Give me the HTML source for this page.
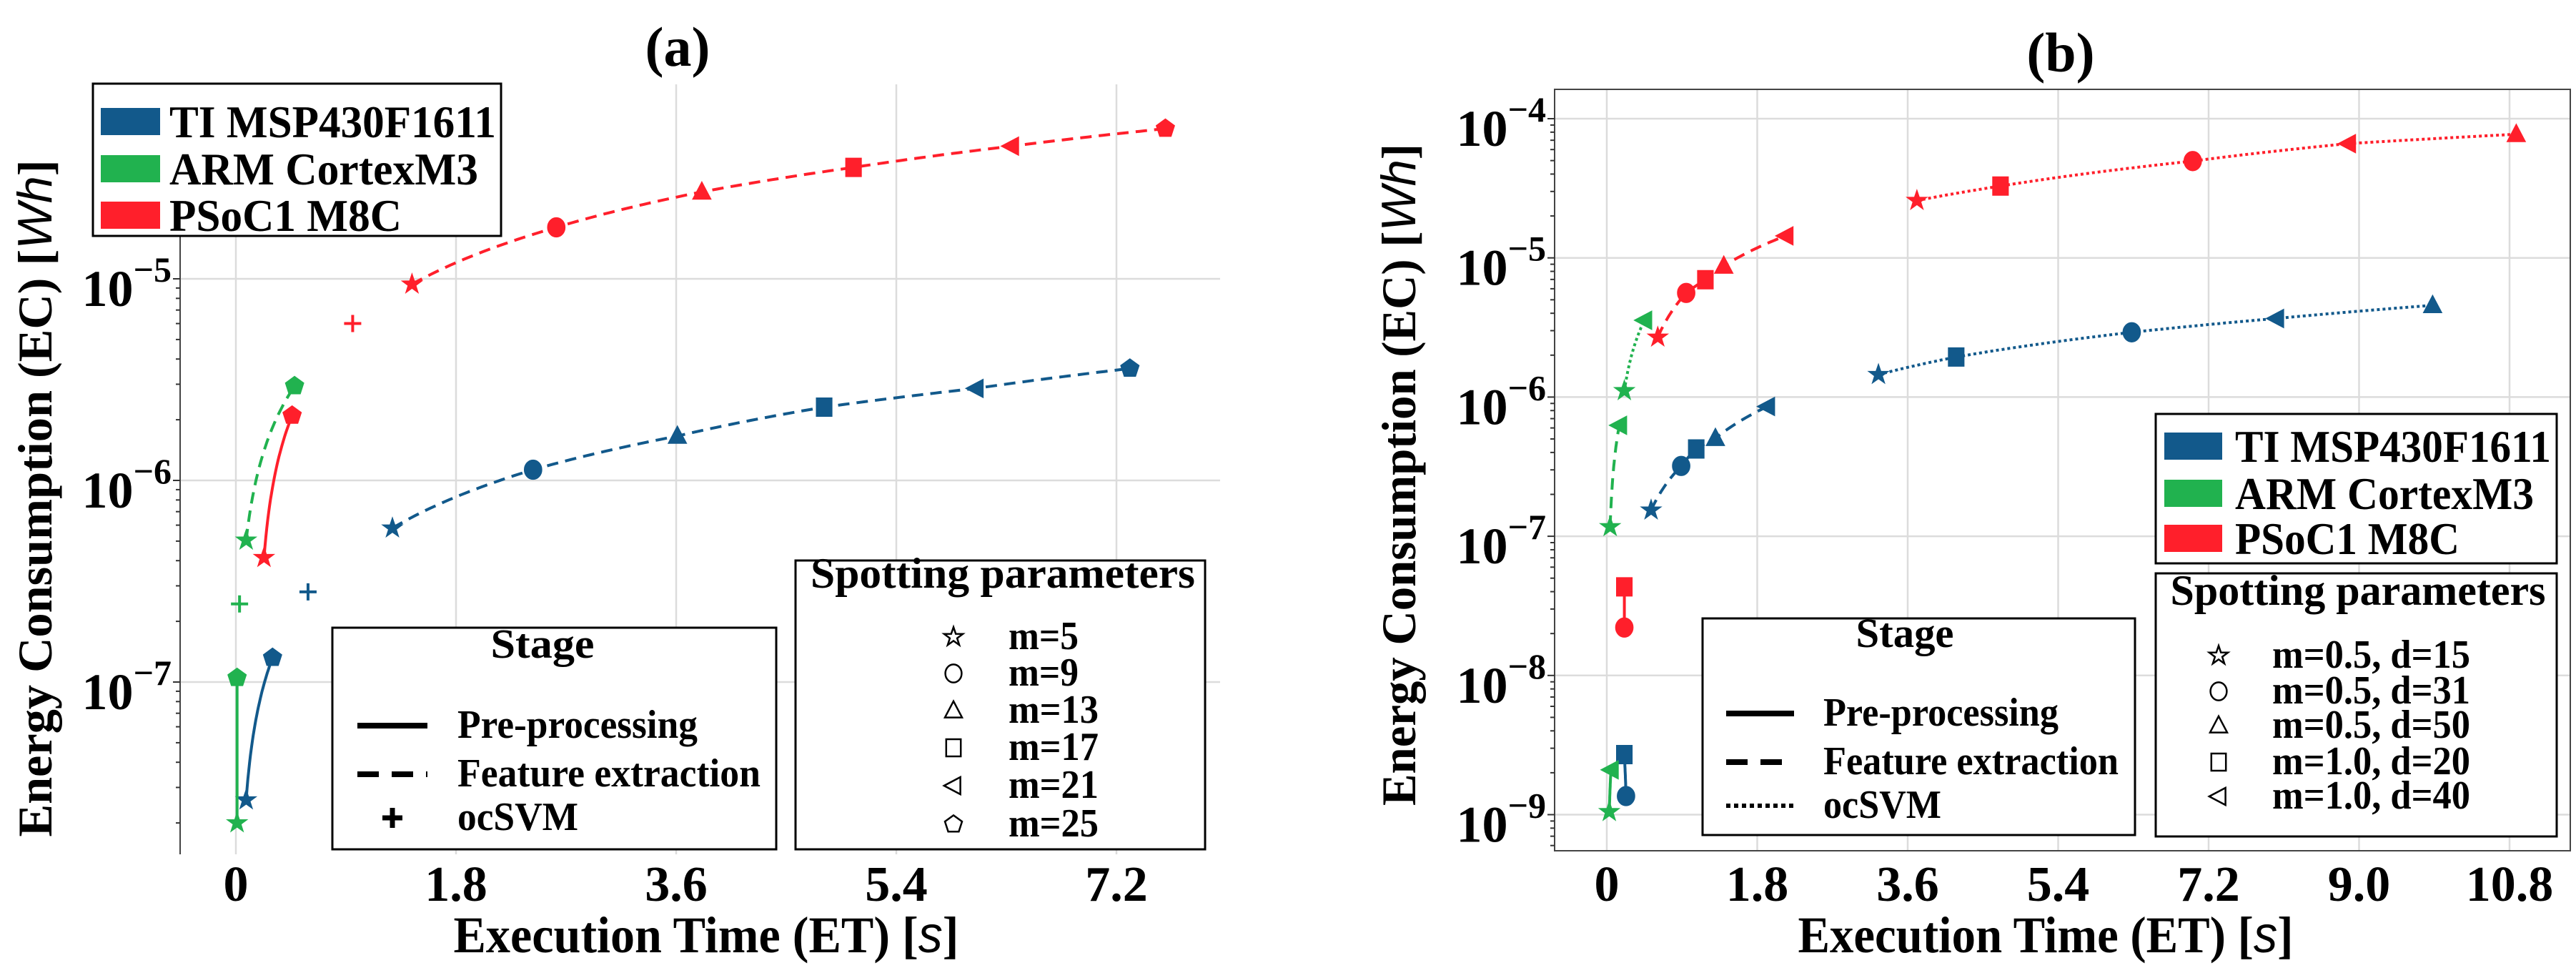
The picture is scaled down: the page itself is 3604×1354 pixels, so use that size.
<!DOCTYPE html>
<html><head><meta charset="utf-8"><style>
html,body{margin:0;padding:0;background:#fff;}
svg{display:block;}
text{font-family:"Liberation Serif","DejaVu Serif Condensed","DejaVu Serif",serif;font-weight:bold;}
</style></head><body>
<svg id="fig" xmlns="http://www.w3.org/2000/svg" width="3604" height="1354" viewBox="0 0 3604 1354"></svg>
<script>
// ---------- Panel (a) data ----------
const aTiPreX=[0.084,0.30];   const aTiPreY=[2.6e-8,1.32e-7];
const aTiFeatX=[1.28,2.43,3.61,4.81,6.05,7.31]; const aTiFeatY=[5.8e-7,1.13e-6,1.66e-6,2.31e-6,2.86e-6,3.59e-6];
const aTiSvmX=[0.59]; const aTiSvmY=[2.8e-7];
const aArmPreX=[0.01,0.01];   const aArmPreY=[2.0e-8,1.05e-7];
const aArmFeatX=[0.084,0.48]; const aArmFeatY=[5.05e-7,2.94e-6];
const aArmSvmX=[0.03]; const aArmSvmY=[2.44e-7];
const aPsPreX=[0.23,0.46];    const aPsPreY=[4.14e-7,2.1e-6];
const aPsFeatX=[1.44,2.62,3.81,5.05,6.34,7.6]; const aPsFeatY=[9.4e-6,1.8e-5,2.7e-5,3.57e-5,4.55e-5,5.56e-5];
const aPsSvmX=[0.955]; const aPsSvmY=[6.0e-6];
const aXTicks=[0,1.8,3.6,5.4,7.2]; const aXTickLabels=["0","1.8","3.6","5.4","7.2"];
const aYExps=[-7,-6,-5];
const aSpotLabels=["m=5","m=9","m=13","m=17","m=21","m=25"];
// ---------- Panel (b) data ----------
const bTiPreX=[0.23,0.21]; const bTiPreY=[1.36e-9,2.7e-9];
const bTiFeatX=[0.53,0.89,1.07,1.30,1.92]; const bTiFeatY=[1.54e-7,3.2e-7,4.24e-7,5.06e-7,8.55e-7];
const bTiSvmX=[3.25,4.18,6.28,8.01,9.88]; const bTiSvmY=[1.45e-6,1.94e-6,2.92e-6,3.67e-6,4.56e-6];
const bArmPreX=[0.03,0.05]; const bArmPreY=[1.05e-9,2.1e-9];
const bArmFeatX=[0.04,0.15]; const bArmFeatY=[1.17e-7,6.27e-7];
const bArmSvmX=[0.21,0.45]; const bArmSvmY=[1.11e-6,3.56e-6];
const bPsPreX=[0.21,0.21]; const bPsPreY=[2.21e-8,4.33e-8];
const bPsFeatX=[0.61,0.95,1.18,1.40,2.14]; const bPsFeatY=[2.69e-6,5.6e-6,6.97e-6,8.75e-6,1.44e-5];
const bPsSvmX=[3.71,4.71,7.01,8.87,10.88]; const bPsSvmY=[2.58e-5,3.28e-5,4.96e-5,6.62e-5,7.73e-5];
const bXTicks=[0,1.8,3.6,5.4,7.2,9.0,10.8]; const bXTickLabels=["0","1.8","3.6","5.4","7.2","9.0","10.8"];
const bYExps=[-9,-8,-7,-6,-5,-4];
const bSpotLabels=["m=0.5, d=15","m=0.5, d=31","m=0.5, d=50","m=1.0, d=20","m=1.0, d=40"];

const BLUE="#12598b", GREEN="#21b24f", RED="#ff1f2b";
const NS="http://www.w3.org/2000/svg";
const svg=document.getElementById('fig');
function el(tag,attrs,parent){const e=document.createElementNS(NS,tag);
  for(const k in attrs)e.setAttribute(k,attrs[k]);(parent||svg).appendChild(e);return e;}
function fit(t,w){if(w){t.setAttribute('textLength',w);t.setAttribute('lengthAdjust','spacingAndGlyphs');}}

function markerPath(type,cx,cy,r){
  let pts=[];
  if(type==='star'){for(let i=0;i<10;i++){const a=-Math.PI/2+i*Math.PI/5;const rr=i%2?r*0.45:r*1.15;pts.push([cx+rr*Math.cos(a),cy+rr*Math.sin(a)]);}}
  else if(type==='tri'){pts=[[cx,cy-r*1.1],[cx+r,cy+r*0.8],[cx-r,cy+r*0.8]];}
  else if(type==='left'){pts=[[cx-r*1.1,cy],[cx+r*0.8,cy-r],[cx+r*0.8,cy+r]];}
  else if(type==='square'){pts=[[cx-r*0.85,cy-r],[cx+r*0.85,cy-r],[cx+r*0.85,cy+r],[cx-r*0.85,cy+r]];}
  else if(type==='pent'){for(let i=0;i<5;i++){const a=-Math.PI/2+i*2*Math.PI/5;pts.push([cx+r*1.05*Math.cos(a),cy+r*1.05*Math.sin(a)]);}}
  else if(type==='plus'){return 'M'+(cx-r)+' '+cy+'H'+(cx+r)+'M'+cx+' '+(cy-r)+'V'+(cy+r);}
  return 'M'+pts.map(p=>p[0].toFixed(1)+' '+p[1].toFixed(1)).join('L')+'Z';
}
function drawMarker(g,type,cx,cy,r,color,hollow){
  let m;
  if(type==='circle'){m=el('ellipse',{cx:cx,cy:cy,rx:r*0.95,ry:r*1.05,fill:hollow?'none':color,stroke:color,'stroke-width':hollow?2.5:1},g);}
  else if(type==='plus'){m=el('path',{d:markerPath(type,cx,cy,r),stroke:color,'stroke-width':hollow?7:4,fill:'none'},g);}
  else {m=el('path',{d:markerPath(type,cx,cy,r),fill:hollow?'none':color,stroke:color,'stroke-width':hollow?2.5:1},g);}
  
  
  return m;
}

function panel(cfg){
  const X=v=>cfg.x0+v/1.8*cfg.xstep;
  const Y=v=>cfg.ytop+(-Math.log10(v)-cfg.topExp)*cfg.dec;
  const g=el('g',{});
  
  
  const grid=el('g',{stroke:'#dcdcdc','stroke-width':2.5},g);
  
  
  cfg.xTicks.forEach(t=>{el('line',{x1:X(t),x2:X(t),y1:cfg.pt,y2:cfg.pb},grid);});
  cfg.yExps.forEach(e=>{const y=Y(Math.pow(10,e));el('line',{x1:cfg.pl,x2:cfg.pr,y1:y,y2:y},grid);});
  if(cfg.frame){const f=el('rect',{x:cfg.pl,y:cfg.pt,width:cfg.pr-cfg.pl,height:cfg.pb-cfg.pt,fill:'none',stroke:'#444','stroke-width':2},g);
    }
  else{const sp=el('line',{x1:cfg.pl,x2:cfg.pl,y1:cfg.pt,y2:cfg.pb,stroke:'#444','stroke-width':2},g);
    }
  const mt=el('g',{stroke:'#333','stroke-width':2},g);
  for(let e=cfg.yExps[0]-1;e<=cfg.yExps[cfg.yExps.length-1];e++){for(let k=2;k<=9;k++){const y=Y(k*Math.pow(10,e));if(y>cfg.pt&&y<cfg.pb)el('line',{x1:cfg.pl-6,x2:cfg.pl,y1:y,y2:y},mt);}}
  cfg.yExps.forEach(e=>{const y=Y(Math.pow(10,e));el('line',{x1:cfg.pl-10,x2:cfg.pl,y1:y,y2:y},mt);});
  cfg.xTicks.forEach((t,i)=>{const tx=el('text',{x:X(t),y:1260,'font-size':70,'text-anchor':'middle'},g);tx.textContent=cfg.xLabels[i];
    });
  cfg.yExps.forEach(e=>{const y=Y(Math.pow(10,e));const tx=el('text',{x:cfg.pl-12,y:y+38,'font-size':72,'text-anchor':'end'},g);
    tx.textContent='10';const s=el('tspan',{dy:-34,'font-size':50},tx);s.textContent='\u2212'+(-e);
    });
  const xl=el('text',{x:cfg.xlx,y:1332,'font-size':72,'text-anchor':'middle'},g);
  xl.textContent='Execution Time (ET) [';const xs=el('tspan',{'font-family':'Liberation Sans, sans-serif','font-style':'italic','font-weight':'normal'},xl);xs.textContent='s';
  const xe=el('tspan',{},xl);xe.textContent=']';
  fit(xl,cfg.xlw);
  
  const yl=el('text',{x:0,y:0,'font-size':68,'text-anchor':'middle',transform:'translate('+cfg.ylx+','+cfg.yly+') rotate(-90)'},g);
  yl.textContent='Energy Consumption (EC) [';const ys=el('tspan',{'font-family':'Liberation Sans, sans-serif','font-style':'italic','font-weight':'normal'},yl);ys.textContent='Wh';
  const ye=el('tspan',{},yl);ye.textContent=']';
  fit(yl,cfg.ylw);
  
  const ti=el('text',{x:cfg.tx,y:cfg.ty,'font-size':78,'text-anchor':'middle'},g);ti.textContent=cfg.title;
  
  cfg.series.forEach(s=>{
    const sg=el('g',{},g);
    
    
    if(s.xs.length>1&&s.dash!=='none'){
      let d='';
      for(let i=0;i<s.xs.length-1;i++){for(let k=0;k<=30;k++){const t=k/30;const xv=s.xs[i]+(s.xs[i+1]-s.xs[i])*t;const yv=s.ys[i]+(s.ys[i+1]-s.ys[i])*t;
        d+=(d?'L':'M')+X(xv).toFixed(1)+' '+Y(yv).toFixed(1);}}
      const p=el('path',{d:d,fill:'none',stroke:s.color,'stroke-width':4,'stroke-dasharray':s.dash},sg);
      
    }
    s.xs.forEach((xv,i)=>drawMarker(sg,s.marks[i],X(xv),Y(s.ys[i]),s.marks[i]==='plus'?12:13,s.color,false));
  });
}

const aM=['star','circle','tri','square','left','pent'];
panel({name:'panel-a',x0:330,xstep:308,ytop:390,topExp:5,dec:282,pl:252,pr:1707,pt:118,pb:1195,frame:false,
  xTicks:aXTicks,xLabels:aXTickLabels,yExps:aYExps,xlx:988,xlw:707,ylx:72,yly:697,ylw:947,tx:948,ty:92,title:'(a)',
  series:[
    {name:'ti-preprocessing',xs:aTiPreX,ys:aTiPreY,color:BLUE,dash:'',marks:['star','pent']},
    {name:'ti-feature-extraction',xs:aTiFeatX,ys:aTiFeatY,color:BLUE,dash:'16 10',marks:aM},
    {name:'ti-ocsvm',xs:aTiSvmX,ys:aTiSvmY,color:BLUE,dash:'none',marks:['plus']},
    {name:'arm-preprocessing',xs:aArmPreX,ys:aArmPreY,color:GREEN,dash:'',marks:['star','pent']},
    {name:'arm-feature-extraction',xs:aArmFeatX,ys:aArmFeatY,color:GREEN,dash:'16 10',marks:['star','pent']},
    {name:'arm-ocsvm',xs:aArmSvmX,ys:aArmSvmY,color:GREEN,dash:'none',marks:['plus']},
    {name:'psoc-preprocessing',xs:aPsPreX,ys:aPsPreY,color:RED,dash:'',marks:['star','pent']},
    {name:'psoc-feature-extraction',xs:aPsFeatX,ys:aPsFeatY,color:RED,dash:'16 10',marks:aM},
    {name:'psoc-ocsvm',xs:aPsSvmX,ys:aPsSvmY,color:RED,dash:'none',marks:['plus']}
  ]});
const bM=['star','square','circle','left','tri'];
const bF=['star','circle','square','tri','left'];
panel({name:'panel-b',x0:2248,xstep:210.5,ytop:166,topExp:4,dec:194.7,pl:2175,pr:3596,pt:125,pb:1190,frame:true,
  xTicks:bXTicks,xLabels:bXTickLabels,yExps:bYExps,xlx:2862,xlw:693,ylx:1980,yly:664,ylw:926,tx:2883,ty:100,title:'(b)',
  series:[
    {name:'ti-preprocessing',xs:bTiPreX,ys:bTiPreY,color:BLUE,dash:'',marks:['circle','square']},
    {name:'ti-feature-extraction',xs:bTiFeatX,ys:bTiFeatY,color:BLUE,dash:'16 10',marks:bF},
    {name:'ti-ocsvm',xs:bTiSvmX,ys:bTiSvmY,color:BLUE,dash:'4 4',marks:bM},
    {name:'arm-preprocessing',xs:bArmPreX,ys:bArmPreY,color:GREEN,dash:'',marks:['star','left']},
    {name:'arm-feature-extraction',xs:bArmFeatX,ys:bArmFeatY,color:GREEN,dash:'16 10',marks:['star','left']},
    {name:'arm-ocsvm',xs:bArmSvmX,ys:bArmSvmY,color:GREEN,dash:'4 4',marks:['star','left']},
    {name:'psoc-preprocessing',xs:bPsPreX,ys:bPsPreY,color:RED,dash:'',marks:['circle','square']},
    {name:'psoc-feature-extraction',xs:bPsFeatX,ys:bPsFeatY,color:RED,dash:'16 10',marks:bF},
    {name:'psoc-ocsvm',xs:bPsSvmX,ys:bPsSvmY,color:RED,dash:'4 4',marks:bM}
  ]});

// ---------- legends ----------
function box(name,x,y,w,h){const r=el('rect',{x:x,y:y,width:w,height:h,fill:'#fff',stroke:'#000','stroke-width':3});
  }
function txt(name,s,x,y,fs,anchor,w){const t=el('text',{x:x,y:y,'font-size':fs,'text-anchor':anchor||'start'});t.textContent=s;
  fit(t,w);
  return t;}
function deviceLegend(x,y,w,h,rows,px,pw,tx,ws){
  box('device-legend',x,y,w,h);
  const names=['TI MSP430F1611','ARM CortexM3','PSoC1 M8C'],cols=[BLUE,GREEN,RED];
  rows.forEach((ry,i)=>{const r=el('rect',{x:px,y:ry-19,width:pw,height:38,fill:cols[i]});
    
    txt('legend-entry',names[i],tx,ry+22,64,'start',ws[i]);});
}
function stageLegend(x,y,w,h,tcx,ty,rows,lx1,lx2,tx,plus,ws){
  box('stage-legend',x,y,w,h);
  txt('stage-legend-title','Stage',tcx,ty+20,58,'middle',ws[0]);
  const labs=['Pre-processing','Feature extraction','ocSVM'];
  rows.forEach((ry,i)=>{
    if(i===0)el('line',{x1:lx1,x2:lx2,y1:ry,y2:ry,stroke:'#000','stroke-width':8});
    else if(i===1)el('line',{x1:lx1,x2:lx2,y1:ry,y2:ry,stroke:'#000','stroke-width':8,'stroke-dasharray':'30 18'});
    else if(!plus)el('line',{x1:lx1,x2:lx2,y1:ry,y2:ry,stroke:'#000','stroke-width':6,'stroke-dasharray':'6 5'});
    else drawMarker(svg,'plus',(lx1+lx2)/2,ry,14,'#000',true);
    txt('legend-entry',labs[i],tx,ry+17,56,'start',ws[i+1]);
  });
}
function spotLegend(x,y,w,h,tcx,ty,rows,mx,tx,labels,marks,tw,ws){
  box('spotting-legend',x,y,w,h);
  txt('spotting-legend-title','Spotting parameters',tcx,ty+20,60,'middle',tw);
  rows.forEach((ry,i)=>{drawMarker(svg,marks[i],mx,ry,12,'#000',true);txt('legend-entry',labels[i],tx,ry+17,56,'start',ws[i]);});
}
deviceLegend(130,117,571,213,[170,236,301],141,83,237,[457,432,325]);
stageLegend(465,878,621,310,759,900,[1015,1083,1144],500,598,640,true,[145,336,424,169]);
spotLegend(1113,784,573,404,1403,802,[891,942,994,1046,1099,1153],1334,1411,aSpotLabels,aM,538,[98,98,126,126,126,126]);
deviceLegend(3016,579,561,209,[624,690,753],3028,81,3127,[442,418,314]);
stageLegend(2382,865,605,303,2665,885,[998,1066,1127],2415,2510,2551,false,[137,329,413,165]);
spotLegend(3016,802,561,368,3299,826,[917,967,1015,1066,1114],3104,3179,bSpotLabels,['star','circle','tri','square','left'],525,[277,277,277,277,277]);
</script>
</body></html>
